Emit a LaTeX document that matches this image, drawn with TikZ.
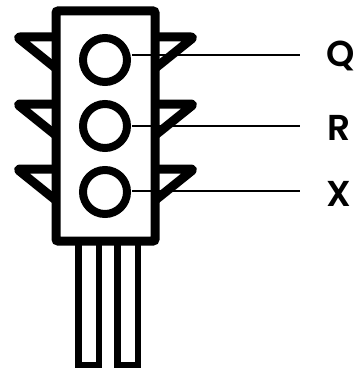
\documentclass[tikz,border=0pt]{standalone}
\usepackage{fontspec}
\newfontfamily\lblfont{Poppins}[BoldFont={Poppins SemiBold}]
\usetikzlibrary{backgrounds}
\pgfdeclarelayer{edgelayer}
\pgfdeclarelayer{nodelayer}
\pgfsetlayers{edgelayer,nodelayer,main}
\tikzset{font=\lblfont\bfseries\fontsize{36}{38}\selectfont}
\tikzstyle{none}=[inner sep=0pt]
\tikzstyle{lamp}=[circle,draw,line width=8pt,minimum size=44pt,inner sep=0pt,fill=white]
\tikzstyle{lbl}=[inner sep=0pt,anchor=west]
\tikzstyle{frame}=[line width=9pt,rounded corners=2pt,fill=white]
\tikzstyle{visor}=[line width=9pt,line join=round,line cap=butt,rounded corners=3pt]
\tikzstyle{leg}=[line width=6.5pt,fill=white]
\tikzstyle{lead}=[line width=1.5pt]

\begin{document}
\begin{tikzpicture}[x=1pt,y=-1pt]
	\useasboundingbox (0,0) rectangle (354,369);
	\begin{pgfonlayer}{nodelayer}
		\node [style=none] (0) at (56, 11) {};
		\node [style=none] (1) at (155, 241) {};
		\node [style=lamp] (2) at (105, 60) {};
		\node [style=lamp] (3) at (105, 126) {};
		\node [style=lamp] (4) at (105, 192) {};
		\node [style=none] (5) at (132, 55) {};
		\node [style=none] (6) at (300, 55) {};
		\node [style=none] (7) at (132, 126) {};
		\node [style=none] (8) at (300, 126) {};
		\node [style=none] (9) at (132, 191) {};
		\node [style=none] (10) at (300, 191) {};
		\node [style=lbl] (11) at (326, 56) {Q};
		\node [style=lbl] (12) at (327, 128) {R};
		\node [style=lbl] (13) at (326, 194) {X};
		\node [style=none] (14) at (78.5, 230) {};
		\node [style=none] (15) at (99, 365) {};
		\node [style=none] (16) at (117.5, 230) {};
		\node [style=none] (17) at (138, 365) {};
	\end{pgfonlayer}
	\begin{pgfonlayer}{edgelayer}
		\draw [style=leg] (14.center) rectangle (15.center);
		\draw [style=leg] (16.center) rectangle (17.center);
		\foreach \y in {37, 104, 169} {
			\draw [style=visor] (58, \y) -- (17, \y) -- (58, \y+33);
			\draw [style=visor] (153, \y) -- (194, \y) -- (153, \y+33);
		}
		\draw [style=frame] (0.center) rectangle (1.center);
		\draw [style=lead] (5.center) to (6.center);
		\draw [style=lead] (7.center) to (8.center);
		\draw [style=lead] (9.center) to (10.center);
	\end{pgfonlayer}
\end{tikzpicture}
\end{document}
